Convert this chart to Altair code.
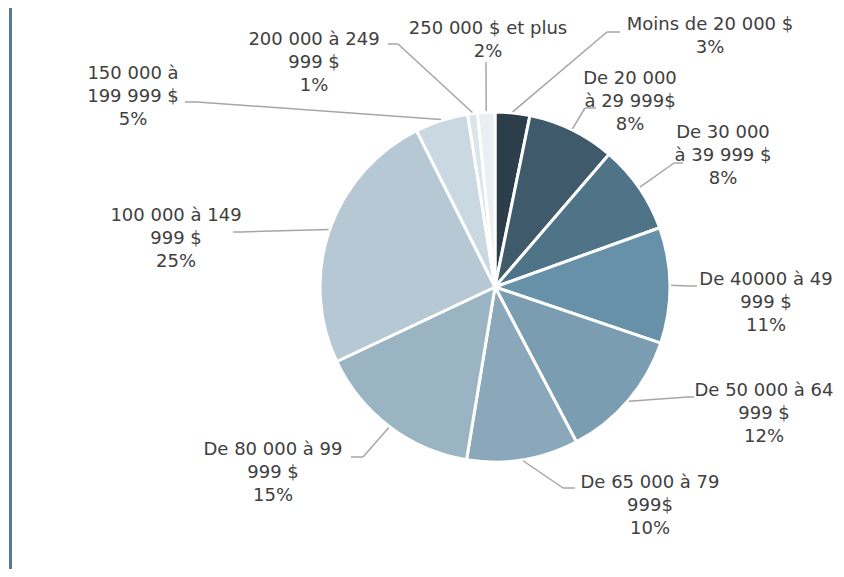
import altair as alt
import pandas as pd

# ---- data ----
categories = [
    "Moins de 20 000 $",
    "De 20 000\nà 29 999$",
    "De 30 000\nà 39 999 $",
    "De 40000 à 49\n999 $",
    "De 50 000 à 64\n999 $",
    "De 65 000 à 79\n999$",
    "De 80 000 à 99\n999 $",
    "100 000 à 149\n999 $",
    "150 000 à\n199 999 $",
    "200 000 à 249\n999 $",
    "250 000 $ et plus",
]
values = [3.2, 8.1, 8.2, 10.7, 12.1, 10.3, 15.4, 24.6, 4.9, 0.9, 1.6]
colors = [
    "#2d3e4b", "#3e5a6b", "#4f7488", "#6791a8", "#7a9db1", "#8aa8ba",
    "#9ab4c3", "#b6c8d4", "#cad8e1", "#dae4ea", "#e9eff3",
]

# ---- layout (page pixels; label_y is the centre of the first text line) ----
label_x = [710, 630, 723, 766, 764, 650, 273, 176, 133, 314, 488]
label_y = [25, 79, 133, 280, 391, 483, 450, 216, 74, 40, 29]
elbow_x = [607, 585, 674, 688, 688, 563, 363, 240, 197, 398, 486]
elbow_y = [32, 108, 163, 286, 397, 488, 457, 232, 102, 44, 62]
end_x = [620, 596, 683, 697, 694, 575, 351, 233, 185, 388, 486]

M = 8
CX, CY, R = 495 - M, 287 - M, 175
W, H = 844 - 2 * M, 577 - 2 * M

df = pd.DataFrame({
    "idx": list(range(len(categories))),
    "cat": categories,
    "value": values,
    "lx": [v - M for v in label_x],
    "ly": [v - M for v in label_y],
    "ex": [v - M for v in elbow_x],
    "ey": [v - M for v in elbow_y],
    "hx": [v - M for v in end_x],
})

base = (
    alt.Chart(df)
    .transform_joinaggregate(total="sum(value)")
    .transform_window(cum="sum(value)", sort=[alt.SortField("idx")], frame=[None, 0])
    .transform_calculate(
        mid="2*PI*(datum.cum - datum.value/2)/datum.total",
        sx=f"{CX} + {R + 1}*sin(datum.mid)",
        sy=f"{CY} - {R + 1}*cos(datum.mid)",
        label="datum.cat + '\\n' + format(datum.value/datum.total, '.0%')",
    )
)

border = alt.Chart(df).mark_rule(color="#4f7a96", strokeWidth=1.5).encode(
    x=alt.value(2.5), y=alt.value(0), y2=alt.value(H)
)

pie = alt.Chart(df).mark_arc(radius=R, stroke="white", strokeWidth=3).encode(
    theta=alt.Theta("value:Q", stack=True),
    order=alt.Order("idx:Q", sort="ascending"),
    color=alt.Color("cat:N", scale=alt.Scale(domain=categories, range=colors), legend=None),
    x=alt.value(CX),
    y=alt.value(CY),
)

leader1 = base.mark_rule(color="#a6a6a6", strokeWidth=1.5).encode(
    x=alt.X("sx:Q", scale=None, axis=None),
    y=alt.Y("sy:Q", scale=None, axis=None),
    x2="ex:Q",
    y2="ey:Q",
)
leader2 = base.mark_rule(color="#a6a6a6", strokeWidth=1.5).encode(
    x=alt.X("ex:Q", scale=None, axis=None),
    y=alt.Y("ey:Q", scale=None, axis=None),
    x2="hx:Q",
    y2="ey:Q",
)

labels = base.mark_text(
    font="DejaVu Sans", fontSize=18, color="#404040", lineBreak="\n",
    lineHeight=23, align="center", baseline="middle",
).encode(
    x=alt.X("lx:Q", scale=None, axis=None),
    y=alt.Y("ly:Q", scale=None, axis=None),
    text="label:N",
)

chart = (
    alt.layer(border, pie, leader1, leader2, labels)
    .properties(width=W, height=H, autosize=alt.AutoSizeParams(type="none"), padding=0,
                background="white")
    .configure_view(stroke=None)
)

chart.save("out.html", embed_options={"renderer": "svg", "actions": False})
